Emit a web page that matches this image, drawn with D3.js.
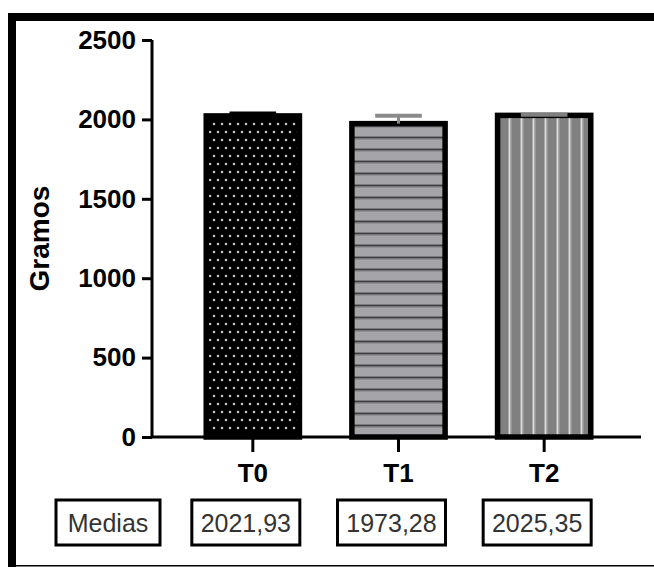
<!DOCTYPE html>
<html>
<head>
<meta charset="utf-8">
<script src="https://cdn.jsdelivr.net/npm/d3@7"></script>
<style>
  html, body { margin: 0; padding: 0; background: #fff; }
  svg { display: block; }
</style>
</head>
<body>
<div id="chart"></div>
<script>
// Weight per treatment (grams): mean and standard deviation
const categories = ["T0", "T1", "T2"];
const means = [2021.93, 1973.28, 2025.35];
const sds = [15, 50, 4];
const meanLabels = ["2021,93", "1973,28", "2025,35"];
const rowLabel = "Medias";
const yTicks = [0, 500, 1000, 1500, 2000, 2500];
const yTitle = "Gramos";

const W = 654, H = 567;
const FONT = "Liberation Sans, Arial, sans-serif";
const svg = d3.select("#chart").append("svg")
  .attr("width", W).attr("height", H);

const defs = svg.append("defs");

// Dotted fill: black ground with staggered light dots
const pDots = defs.append("pattern").attr("id", "pat-dots")
  .attr("patternUnits", "userSpaceOnUse").attr("width", 8).attr("height", 16);
pDots.append("rect").attr("width", 8).attr("height", 16).attr("fill", "#000");
pDots.append("circle").attr("cx", 2).attr("cy", 4).attr("r", 1.3).attr("fill", "#c4c4c4");
pDots.append("circle").attr("cx", 6).attr("cy", 12).attr("r", 1.3).attr("fill", "#c4c4c4");

// Horizontal stripes on light gray
const pH = defs.append("pattern").attr("id", "pat-h")
  .attr("patternUnits", "userSpaceOnUse").attr("width", 12).attr("height", 12);
pH.append("rect").attr("width", 12).attr("height", 12).attr("fill", "#a4a4a9");
pH.append("rect").attr("y", 4).attr("width", 12).attr("height", 1).attr("fill", "#7a7a7e");
pH.append("rect").attr("y", 5).attr("width", 12).attr("height", 1.5).attr("fill", "#3c3c3e");
pH.append("rect").attr("y", 6.5).attr("width", 12).attr("height", 1).attr("fill", "#7a7a7e");

// Vertical stripes on mid gray
const pV = defs.append("pattern").attr("id", "pat-v")
  .attr("patternUnits", "userSpaceOnUse").attr("width", 12).attr("height", 12);
pV.append("rect").attr("width", 12).attr("height", 12).attr("fill", "#808080");
pV.append("rect").attr("x", 4).attr("width", 1).attr("height", 12).attr("fill", "#a8a8a8");
pV.append("rect").attr("x", 5).attr("width", 1.5).attr("height", 12).attr("fill", "#dcdcdc");
pV.append("rect").attr("x", 6.5).attr("width", 1).attr("height", 12).attr("fill", "#a8a8a8");

const fills = ["url(#pat-dots)", "url(#pat-h)", "url(#pat-v)"];
const capColors = ["#000", "#8a8a8a", "#7f7f7f"];

// Outer frame: heavy top and left edges, thin bottom rule
svg.append("rect").attr("x", 8).attr("y", 13).attr("width", W - 8).attr("height", 8).attr("fill", "#000");
svg.append("rect").attr("x", 8).attr("y", 13).attr("width", 8).attr("height", H - 13).attr("fill", "#000");
svg.append("rect").attr("x", 16).attr("y", 565).attr("width", W - 16).attr("height", 1.5).attr("fill", "#000");

const y = d3.scaleLinear().domain([0, 2500]).range([437, 40]);
const x = d3.scaleBand().domain(categories).range([180, 617]).padding(0);
const barW = x.bandwidth() * 0.64;
const cx = d => x(d) + x.bandwidth() / 2;

// Bars
const g = svg.append("g");
g.selectAll("rect.bar").data(categories).join("rect")
  .attr("class", "bar")
  .attr("x", d => cx(d) - barW / 2)
  .attr("y", (d, i) => y(means[i]))
  .attr("width", barW)
  .attr("height", (d, i) => y(0) - y(means[i]))
  .attr("fill", (d, i) => fills[i])
  .attr("stroke", "#000").attr("stroke-width", 5.5);

// Error bars (upper half only)
const capW = barW / 2;
categories.forEach((c, i) => {
  const top = y(means[i] + sds[i]);
  const base = y(means[i]);
  g.append("line").attr("x1", cx(c)).attr("x2", cx(c))
    .attr("y1", base).attr("y2", top)
    .attr("stroke", capColors[i]).attr("stroke-width", 3);
  g.append("line").attr("x1", cx(c) - capW / 2).attr("x2", cx(c) + capW / 2)
    .attr("y1", top).attr("y2", top)
    .attr("stroke", capColors[i]).attr("stroke-width", 4);
});

// Y axis
const yAxis = svg.append("g").attr("transform", "translate(152,0)")
  .call(d3.axisLeft(y).tickValues(yTicks).tickSize(10).tickPadding(6).tickFormat(d3.format("d")));
yAxis.select(".domain").attr("stroke", "#000").attr("stroke-width", 3)
  .attr("d", `M0,${y(2500)}V${y(0)}`);
yAxis.selectAll(".tick line").attr("stroke", "#000").attr("stroke-width", 3);
yAxis.selectAll(".tick text")
  .attr("font-family", FONT)
  .attr("font-weight", "bold").attr("font-size", 26).attr("fill", "#000");

// X axis
const xAxis = svg.append("g").attr("transform", `translate(0,${y(0)})`)
  .call(d3.axisBottom(x).tickSize(15).tickPadding(12));
xAxis.select(".domain").attr("stroke", "#000").attr("stroke-width", 3)
  .attr("d", "M152,0H641");
xAxis.selectAll(".tick line").attr("stroke", "#000").attr("stroke-width", 3);
xAxis.selectAll(".tick text")
  .attr("font-family", FONT)
  .attr("font-weight", "bold").attr("font-size", 26).attr("fill", "#000");

// Y title
svg.append("text")
  .attr("transform", `translate(49,${(y(0) + y(2500)) / 2}) rotate(-90)`)
  .attr("text-anchor", "middle")
  .attr("font-family", FONT)
  .attr("font-weight", "bold").attr("font-size", 28)
  .text(yTitle);

// Means table under the axis
const boxY = 500, boxH = 45;
const table = svg.append("g");
function box(xl, w, label) {
  table.append("rect").attr("x", xl).attr("y", boxY).attr("width", w).attr("height", boxH)
    .attr("fill", "#fff").attr("stroke", "#000").attr("stroke-width", 3);
  table.append("text").attr("x", xl + w / 2).attr("y", boxY + boxH / 2 + 9)
    .attr("text-anchor", "middle")
    .attr("font-family", FONT)
    .attr("font-size", 25).attr("fill", "#333")
    .text(label);
}
box(56, 104, rowLabel);
categories.forEach((c, i) => box(cx(c) - 61, 108, meanLabels[i]));
</script>
</body>
</html>
